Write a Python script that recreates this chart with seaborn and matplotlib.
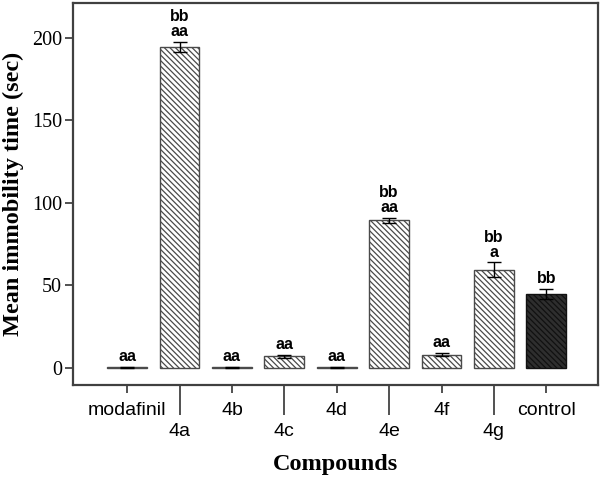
import matplotlib
matplotlib.use("Agg")
import matplotlib.pyplot as plt
import seaborn as sns

compounds = ["modafinil", "4a", "4b", "4c", "4d", "4e", "4f", "4g", "control"]
means = [0.3, 194.5, 0.3, 7.0, 0.3, 89.5, 8.0, 59.5, 45.0]
sems = [0.2, 3.0, 0.2, 1.0, 0.2, 1.5, 1.0, 4.5, 3.0]
letters = ["aa", "bb\naa", "aa", "aa", "aa", "bb\naa", "aa", "bb\na", "bb"]

sns.set_style("ticks")
plt.rcParams["hatch.linewidth"] = 0.9
plt.rcParams["text.color"] = "black"
plt.rcParams["axes.labelcolor"] = "black"
plt.rcParams["xtick.color"] = "black"
plt.rcParams["ytick.color"] = "black"

fig = plt.figure(figsize=(6, 4.8), dpi=100)
ax = fig.add_axes([0.122, 0.198, 0.875, 0.796])

sns.barplot(x=compounds, y=means, order=compounds, ax=ax, errorbar=None,
            width=0.76, color="white", edgecolor="#4a4a4a", linewidth=1.0,
            hatch="\\\\\\\\\\\\")
ax.patches[-1].set_facecolor("#2e2e2e")
ax.patches[-1].set_edgecolor("#111111")

ax.errorbar(range(len(compounds)), means, yerr=sems, fmt="none",
            ecolor="black", elinewidth=1.0, capsize=5, capthick=1.0)

for i, (m, s, lab) in enumerate(zip(means, sems, letters)):
    ax.annotate(lab, (i, m + s), xytext=(0, 2), textcoords="offset points",
                ha="center", va="bottom", fontsize=11.5, fontweight="bold",
                family="Liberation Sans", linespacing=1.0)

ax.set_xlim(-1.03, 8.99)
ax.set_ylim(-10.3, 221.2)
ax.set_yticks([0, 50, 100, 150, 200])
ax.tick_params(axis="y", labelsize=14.5, length=6, width=1.2, pad=2,
               color="#333333")
for t in ax.get_yticklabels():
    t.set_family("Liberation Serif")

ax.set_xticks(range(len(compounds)))
ax.set_xticklabels(compounds, fontsize=14, family="Liberation Sans")
ax.tick_params(axis="x", length=6, width=1.2, pad=6.5, color="#333333")
for i, tick in enumerate(ax.xaxis.get_major_ticks()):
    if i % 2 == 1:
        tick.set_pad(21.6)
        tick.tick1line.set_markersize(21.6)

for sp in ax.spines.values():
    sp.set_visible(True)
    sp.set_linewidth(1.6)
    sp.set_color("#404040")

ax.set_ylabel("Mean immobility time (sec)", fontsize=17.5, fontweight="bold",
              family="Liberation Serif", labelpad=6)
ax.set_xlabel("Compounds", fontsize=17.5, fontweight="bold",
              family="Liberation Serif", labelpad=10)

fig.savefig("out.png", dpi=100)
